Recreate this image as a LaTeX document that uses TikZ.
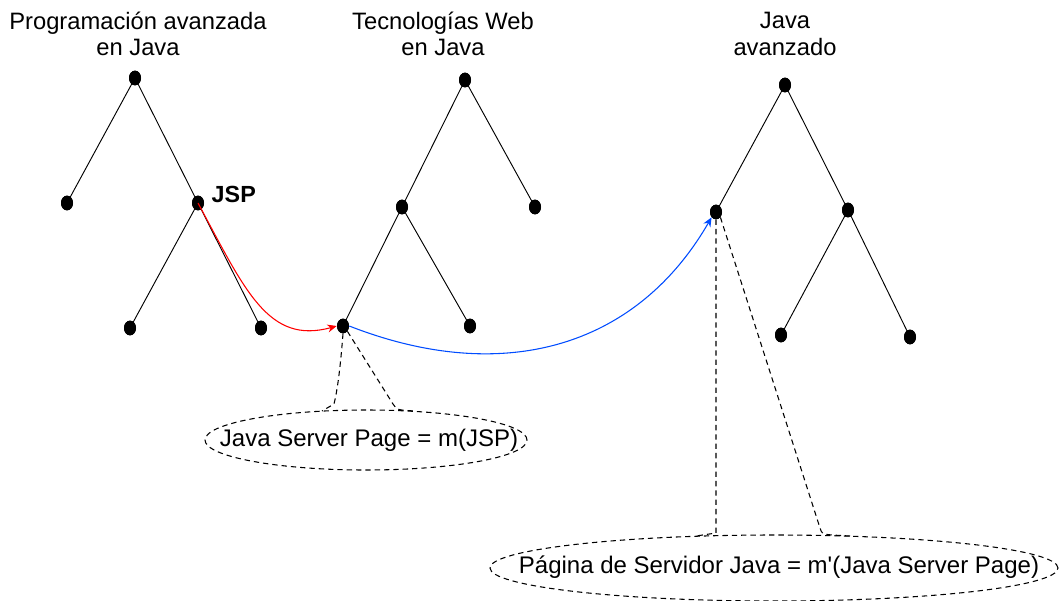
\documentclass[tikz,border=0pt]{standalone}
\usepackage{fontspec}
\setmainfont{Liberation Sans}
\usetikzlibrary{shapes.geometric,arrows.meta}
\tikzset{
  dot/.style={ellipse,fill=black,inner sep=0pt,minimum width=9pt,minimum height=11pt},
  edge/.style={black,line width=0.7pt},
  title/.style={align=center,font=\fontsize{17.8}{20}\selectfont},
  dashline/.style={black,line width=0.8pt,dash pattern=on 4pt off 3pt},
  bubble/.style={inner sep=0pt,font=\fontsize{18}{20}\selectfont},
  redarrow/.style={red,line width=0.8pt,-{Stealth[length=7pt,width=6pt]}},
  bluearrow/.style={blue!70!cyan,line width=0.8pt,-{Stealth[length=7pt,width=6pt]}}
}
\begin{document}
\begin{tikzpicture}[x=0.75pt,y=-0.75pt]
\useasboundingbox[fill=white] (0,0) rectangle (1060,600);
% titles
\node[title] (t1) at (138,34) {Programación avanzada\\en Java};
\node[title] (t2) at (443,34) {Tecnologías Web\\en Java};
\node[title] (t3) at (785,34) {Java\\avanzado};
% tree 1
\node[dot] (r1) at (135,78) {};
\node[dot] (a1) at (67,203) {};
\node[dot] (b1) at (198,203) {};
\node[dot] (c1) at (130,328) {};
\node[dot] (d1) at (261,328) {};
\node[font=\fontsize{17.5}{19}\selectfont\bfseries,anchor=west] (jsp) at (207,194) {JSP};
% tree 2
\node[dot] (r2) at (465,80) {};
\node[dot] (a2) at (402,207) {};
\node[dot] (b2) at (535,207) {};
\node[dot] (c2) at (343,326) {};
\node[dot] (d2) at (470,326) {};
% tree 3
\node[dot] (r3) at (785,85) {};
\node[dot] (a3) at (716,212) {};
\node[dot] (b3) at (848,210) {};
\node[dot] (c3) at (781,335) {};
\node[dot] (d3) at (910,337) {};
% edges
\draw[edge] (r1.center) -- (a1.center);
\draw[edge] (r1.center) -- (b1.center);
\draw[edge] (b1.center) -- (c1.center);
\draw[edge] (b1.center) -- (d1.center);
\draw[edge] (r2.center) -- (a2.center);
\draw[edge] (r2.center) -- (b2.center);
\draw[edge] (a2.center) -- (c2.center);
\draw[edge] (a2.center) -- (d2.center);
\draw[edge] (r3.center) -- (a3.center);
\draw[edge] (r3.center) -- (b3.center);
\draw[edge] (b3.center) -- (c3.center);
\draw[edge] (b3.center) -- (d3.center);
% redraw dots on top
\foreach \n in {r1,a1,b1,c1,d1,r2,a2,b2,c2,d2,r3,a3,b3,c3,d3}{\fill (\n.center) ellipse (4.5pt and 5.5pt);}
% arrows
\draw[redarrow] (b1.center) .. controls (245,290) and (268,345) .. (c2.west);
\draw[bluearrow] (c2.east) .. controls (500,385) and (635,350) .. (a3.south west);
% bubbles
\node[bubble] (e1) at (369,440) {Java Server Page = m(JSP)};
\draw[dashline] (366,440) ellipse (120.75pt and 22.5pt);
\node[bubble] (e2) at (779,567) {Página de Servidor Java = m\textquotesingle(Java Server Page)};
\draw[dashline] (774,568) ellipse (213pt and 24.75pt);
\coordinate (e1l) at (334,404);
\coordinate (e1r) at (393,404);
\coordinate (e2l) at (716,533);
\coordinate (e2r) at (820,528);
\draw[dashline] (c2.south) .. controls (340,372) and (337,392) .. (e1l) -- (322,411);
\draw[dashline] (c2.south east) -- (e1r) .. controls (397,410) .. (415,411);
\draw[dashline] (a3.south) -- (e2l) -- (696,536);
\draw[dashline] (a3.south east) -- (e2r) .. controls (822,534) .. (832,535) -- (850,536);
\end{tikzpicture}
\end{document}
